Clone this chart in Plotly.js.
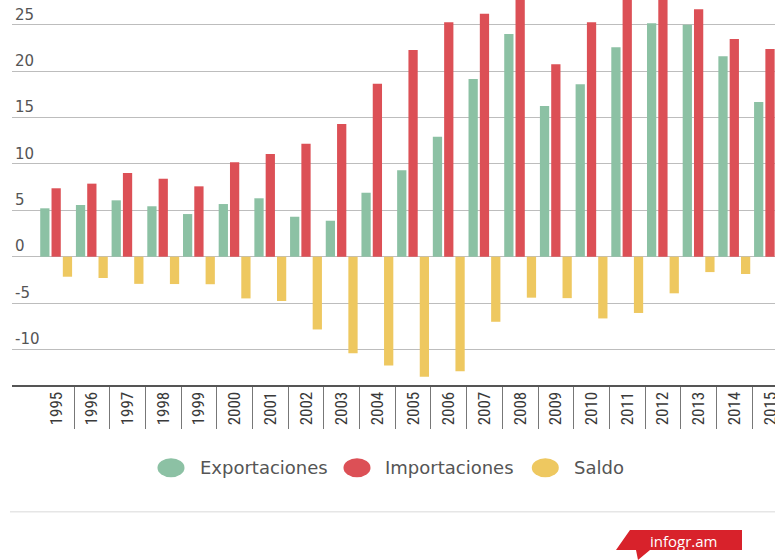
<!DOCTYPE html>
<html>
<head>
<meta charset="utf-8">
<script src="https://cdn.plot.ly/plotly-3.0.1.min.js"></script>
<style>
  html, body { margin: 0; padding: 0; background: #ffffff; }
  #chart { width: 775px; height: 560px; }
</style>
</head>
<body>
<div id="chart"></div>
<script>
// ---- data ----
const years = ['1995','1996','1997','1998','1999','2000','2001','2002','2003','2004','2005','2006','2007','2008','2009','2010','2011','2012','2013','2014','2015'];
const exportaciones = [5.22, 5.58, 6.08, 5.44, 4.60, 5.68, 6.30, 4.31, 3.88, 6.90, 9.32, 12.94, 19.17, 24.02, 16.26, 18.60, 22.59, 25.18, 25.03, 21.62, 16.69];
const importaciones = [7.38, 7.88, 9.03, 8.41, 7.59, 10.18, 11.08, 12.19, 14.31, 18.66, 22.30, 25.28, 26.20, 28.44, 20.75, 25.28, 28.66, 29.13, 26.69, 23.48, 22.40];
const saldo = [-2.16, -2.30, -2.93, -2.95, -2.97, -4.50, -4.78, -7.85, -10.41, -11.74, -12.96, -12.35, -7.02, -4.42, -4.47, -6.66, -6.07, -3.95, -1.66, -1.87, -5.71];
const seriesNames = ['Exportaciones', 'Importaciones', 'Saldo'];
const seriesColors = ['#8cc1a4', '#dc5056', '#eec860'];
const yTickVals = [-10, -5, 0, 5, 10, 15, 20, 25];
const yTickText = ['-10', '-5', '0', '5', '10', '15', '20', '25'];
const logoText = 'infogr.am';

// ---- geometry helpers (plot area: left 12px, top 0, width 763, height 385) ----
const L = 12, W = 763, H = 385;
const px = x => (x - L) / W;
const py = y => (H - y) / H;

const values = [exportaciones, importaciones, saldo];
const traces = values.map((v, i) => ({
  type: 'bar',
  name: seriesNames[i],
  x: years,
  y: v,
  marker: { color: seriesColors[i], line: { width: 0 } },
  hoverinfo: 'x+y+name',
  showlegend: false
}));

// custom legend: ellipses + text
const legendCx = [171, 357, 545.3];
const legendTx = [200, 385, 574];
const legendY = 467.7;
const shapes = [];
const annotations = [];
seriesNames.forEach((n, i) => {
  shapes.push({
    type: 'circle', xref: 'paper', yref: 'paper',
    xsizemode: 'pixel', ysizemode: 'pixel',
    xanchor: px(legendCx[i]), yanchor: py(legendY),
    x0: -13.5, x1: 13.5, y0: -9.5, y1: 9.5,
    fillcolor: seriesColors[i], line: { width: 0 }
  });
  annotations.push({
    xref: 'paper', yref: 'paper', x: px(legendTx[i] - 2), y: py(legendY),
    xanchor: 'left', yanchor: 'middle', showarrow: false,
    text: n, font: { family: 'DejaVu Sans', size: 18, color: '#555555' }
  });
});

// separator line
shapes.push({
  type: 'line', xref: 'paper', yref: 'paper',
  x0: px(10), x1: 1, y0: py(511.7), y1: py(511.7),
  line: { color: '#e6e6e6', width: 1.5 }
});

// infogr.am logo flag
const flag = [[630,530],[742,530],[742,550],[650,550],[638,560],[636,550],[616,550]];
shapes.push({
  type: 'path', xref: 'paper', yref: 'paper',
  path: 'M' + flag.map(p => px(p[0]).toFixed(5) + ',' + py(p[1]).toFixed(5)).join(' L') + ' Z',
  fillcolor: '#d8222b', line: { width: 0 }
});
annotations.push({
  xref: 'paper', yref: 'paper', x: px(684), y: py(541),
  xanchor: 'center', yanchor: 'middle', showarrow: false,
  text: logoText, font: { family: 'Open Sans', size: 15, color: '#ffffff' }
});

const layout = {
  width: 775, height: 560,
  margin: { l: L, r: 0, t: 0, b: 560 - H, pad: 0 },
  paper_bgcolor: '#ffffff', plot_bgcolor: '#ffffff',
  barmode: 'group',
  bargap: 0.05,
  bargroupgap: 0.18,
  showlegend: false,
  xaxis: {
    type: 'category',
    range: [-1.237, 20.14],
    showgrid: false, zeroline: false,
    showline: true, linecolor: '#555555', linewidth: 2,
    ticks: 'outside', tickson: 'boundaries', ticklen: 42, tickwidth: 1, tickcolor: '#777777',
    tickangle: -90,
    ticklabelstandoff: -2,
    tickfont: { family: 'Liberation Sans Narrow, Roboto Condensed, Roboto, sans-serif', size: 17, color: '#3a3a3a' },
    fixedrange: true
  },
  yaxis: {
    range: [-13.84, 27.69],
    tickmode: 'array', tickvals: yTickVals, ticktext: yTickText,
    ticklabelposition: 'inside top',
    showgrid: true, gridcolor: '#bdbdbd', gridwidth: 1,
    zeroline: true, zerolinecolor: '#bdbdbd', zerolinewidth: 1,
    showline: false, ticks: '',
    tickfont: { family: 'DejaVu Sans', size: 15, color: '#555555' },
    fixedrange: true
  },
  shapes: shapes,
  annotations: annotations
};

Plotly.newPlot('chart', traces, layout, { displayModeBar: false, staticPlot: true });
</script>
</body>
</html>
